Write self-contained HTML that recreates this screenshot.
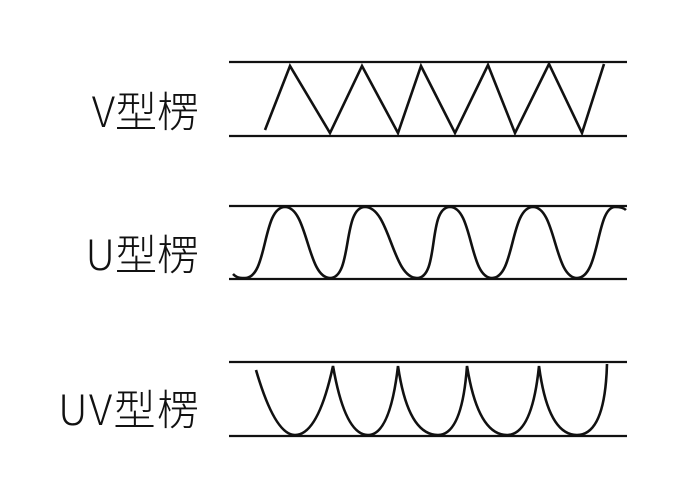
<!DOCTYPE html>
<html><head><meta charset="utf-8"><style>
html,body{margin:0;padding:0;background:#fff;width:688px;height:504px;overflow:hidden}
</style></head><body>
<svg width="688" height="504" viewBox="0 0 688 504" xmlns="http://www.w3.org/2000/svg">
<g font-family="Noto Sans CJK SC, sans-serif" font-weight="300" font-size="42" fill="#111" text-anchor="end">
<text x="199" y="127">V型楞</text>
<text x="199" y="270">U型楞</text>
<text x="199" y="425" textLength="141" lengthAdjust="spacing">UV型楞</text>
</g>
<g stroke="#111" stroke-width="2.2" fill="none">
<line x1="229" y1="62" x2="627" y2="62"/>
<line x1="229" y1="136" x2="627" y2="136"/>
<line x1="229" y1="206" x2="627" y2="206"/>
<line x1="229" y1="279" x2="627" y2="279"/>
<line x1="229" y1="362" x2="627" y2="362"/>
<line x1="229" y1="436" x2="627" y2="436"/>
<polyline stroke-width="2.6" points="265,130 290,66 330,133 362,66 398,133 421,66 455,133 488,65 515,133 549,64 582,133 604,64"/>
<path stroke-width="2.6" d="M233,274 C238,279 242,278 245,278
 C268,278 262,207 285,207 C308,207 307,278 330,278
 C353,278 342,207 365,207 C390,207 392,278 417,278
 C440,278 427,207 450,207 C473,207 469,278 492,278
 C515,278 510,207 533,207 C556,207 554,278 577,278
 C600,278 596,207 615,207 C620,207 624,208 626,210"/>
<path stroke-width="2.6" d="M256,370 Q275,435 295,435 Q318,435 333,366
 Q345,435 368,435 Q390,435 398,366
 Q408,435 438,435 Q462,435 467,366
 Q478,435 507,435 Q532,435 539,366
 Q548,435 577,435 Q605,435 607,364"/>
</g>
</svg>
</body></html>
